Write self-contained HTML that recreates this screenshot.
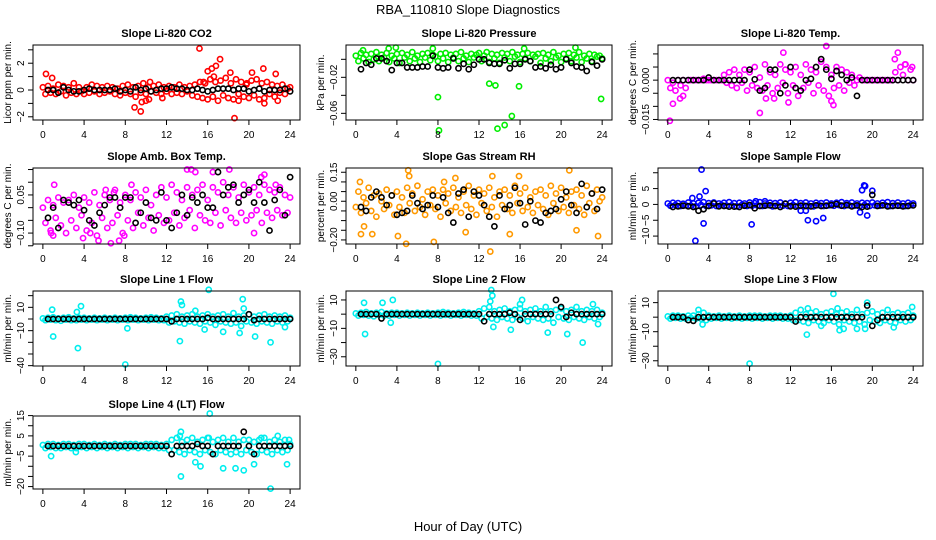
<!DOCTYPE html>
<html><head><meta charset="utf-8">
<style>
body{margin:0;background:#fff;}
svg{display:block;font-family:"Liberation Sans",Arial,sans-serif;}
</style></head>
<body>
<svg id="chart" width="936" height="540" viewBox="0 0 936 540">
<text x="468" y="14" font-size="13" text-anchor="middle">RBA_110810  Slope Diagnostics</text>
<text x="468" y="531" font-size="13" text-anchor="middle">Hour of Day (UTC)</text>
</svg>
<script>
// x tick labels shared by all panels
const xTicks = [0,4,8,12,16,20,24];

// ---- Panel 1: CO2 ----
const co2Col = [0.2,-0.3,0.3,-0.2,0.1,-0.3,0.4,-0.1,0.3,-0.4,0.2,-0.2,0.5,-0.3,0.2,-0.1,
-0.3,0.2,-0.2,0.4,-0.1,0.3,-0.3,0.2,-0.2,0.3,-0.1,0.2,-0.3,0.1,-0.4,0.3,
-0.2,0.4,-0.3,0.2,-0.5,0.3,-0.2,0.5,-0.3,0.2,-0.1,0.3,-0.2,0.4,-0.3,0.2,
-0.1,0.3,-0.3,0.2,-0.2,0.4,-0.3,0.2,-0.1,0.3,-0.4,0.4,-0.5,0.6,-0.6,0.5,
-0.7,0.8,-0.5,0.6,-0.8,0.7,-0.4,0.9,-0.6,0.5,-0.7,0.8,-0.3,0.6,-0.5,0.4,
-0.6,0.7,-0.4,0.8,-0.7,0.5,-0.6,0.6,-0.3,0.4,-0.5,0.3,-0.2,0.4,-0.3,0.1,0.2];
const co2OutX = [0.3,0.9,8.9,9.5,9.6,10,10.3,10.4,15.2,15.6,16,16.4,16.8,17.2,16.6,18.2,18.6,19.8,20.3,21.4,21.5,22.6,22.8,11.6,19];
const co2OutY = [1.2,0.9,-1.3,-1.6,-0.9,-0.8,-0.7,0.6,3.1,0.6,1.4,1.6,1.8,2.3,1.0,1.3,-2.1,0.5,1.3,1.6,-1.0,1.2,-0.8,-0.6,-0.8];
const co2Blk = [0,0,-0.2,0.2,0,-0.1,-0.1,0,0.1,0,0,0,0,0.1,-0.1,0,-0.1,0.2,0,0.1,-0.1,0,0.1,0.1,0.2,0.1,0.1,0,0,0.1,0,-0.1,0,0.1,0.1,0.1,0,0.1,0.1,-0.1,0,0.1,-0.1,0,0,0,0.1,-0.1];

// ---- Panel 2: Pressure ----
const prCol = [.004,-.002,.007,.001,.005,-.003,.006,0,.008,-.002,.005,.002,.007,-.003,.004,.001,
.006,-.004,.007,.002,.005,-.002,.008,.001,.004,-.003,.006,.002,.007,-.001,.005,.003,
-.002,.006,.001,.007,-.003,.005,.002,.006,-.002,.008,.001,.004,-.003,.006,.002,.005,
.007,-.002,.004,.008,-.003,.006,.001,.005,-.004,.007,.002,.006,-.002,.008,.003,.005,
-.003,.006,.001,.007,-.002,.005,.003,.006,-.004,.007,.001,.005,-.002,.008,.002,.004,
-.003,.006,.001,.007,-.002,.005,.002,.008,-.003,.004,.001,.006,-.002,.005,.003,.004,.001];
const prOutX = [8,8.1,13,13.6,13.8,14.5,15.2,15.9,23.9,21.4,3.9,0.7,7.5,3.2,16.4];
const prOutY = [-0.042,-0.079,-0.027,-0.029,-0.077,-0.073,-0.063,-0.030,-0.044,0.013,0.013,0.010,0.012,0.012,0.012];
const prBlk = [-0.011,-0.004,-0.006,0.001,0.001,-0.002,-0.012,-0.004,-0.004,-0.009,-0.009,-0.009,-0.008,-0.008,0.004,-0.009,-0.010,-0.009,0.001,-0.010,-0.005,-0.011,-0.006,0.000,0.000,-0.004,-0.005,-0.005,-0.001,-0.010,-0.005,-0.005,0.000,-0.002,-0.009,-0.008,-0.010,-0.006,-0.011,-0.009,0.000,-0.004,-0.008,-0.009,-0.013,-0.003,-0.007,0.000];

// ---- Panel 3: Li-820 Temp ----
const tpCol = [0,-.003,-.001,-.004,0,-.002,0,-.003,0,0,0,0,0,0,.0005,0,
0,0,0,0,0,0,.002,-.001,.003,-.002,.004,-.003,.002,-.001,.004,-.004,
.003,-.002,.005,-.003,.001,-.004,.006,-.002,.003,-.005,.002,-.003,.006,-.001,.004,-.005,
.003,-.002,.005,-.006,.002,-.003,.006,-.001,.004,-.005,.003,-.002,.007,-.004,.005,-.006,
.002,-.003,.005,-.002,.004,-.004,.003,-.001,.002,-.002,0,.001,0,0,0,0,
0,0,0,0,0,0,0,0,0,.003,0,.005,.002,.006,0,.004,0];
const tpOutX = [0.2,0.5,9,15.5,11.3,22.5,22.2,23.2,23.9,16,16.2,11.8,1.2,1.5,9.6,10.4];
const tpOutY = [-0.0155,-0.009,-0.0125,0.013,0.0105,0.0105,0.008,0.006,0.005,-0.008,-0.0095,-0.0085,-0.007,-0.006,-0.007,-0.007];
const tpBlk = [0,0,0,0,0,0,0,0.001,0,0,0,0,0,0,0,0.004,0.0003,-0.004,-0.003,0.004,0.004,-0.005,-0.002,0.005,-0.003,-0.004,0,0.0005,0.005,0.008,0.004,0.0005,0.0035,0.002,0,0.001,-0.006,0,0,0,0,0,0,0,0,0,0,0];

// ---- Panel 4: Amb. Box Temp ----
const abCol = [0.00,-0.06,0.03,-0.09,0.01,-0.04,0.04,-0.07,0.02,-0.10,0.03,-0.05,0.05,-0.08,0.00,-0.03,
0.04,-0.09,0.02,-0.06,0.06,-0.11,0.01,-0.04,0.05,-0.08,0.03,-0.06,0.07,-0.03,0.02,-0.10,
0.05,-0.05,0.03,-0.08,0.06,-0.02,0.04,-0.07,0.07,-0.04,0.01,-0.09,0.05,-0.03,0.08,-0.06,
0.04,-0.05,0.09,-0.02,0.06,-0.07,0.03,-0.04,0.08,-0.01,0.05,-0.08,0.07,-0.03,0.09,-0.05,
0.03,-0.06,0.08,-0.02,0.06,-0.07,0.10,-0.01,0.05,-0.04,0.08,-0.06,0.04,-0.02,0.09,-0.05,
0.06,-0.03,0.08,-0.01,0.05,-0.06,0.09,-0.02,0.07,-0.04,0.06,-0.01,0.08,-0.03,0.05,-0.02,0.04];
const abOutX = [0.8,1.0,1.1,3.9,4.6,5.4,6.1,6.6,7.4,7.9,8.6,14.0,14.4,14.8,16.5,18.1,20.5,21.2,21.5,6.9,22.6];
const abOutY = [-0.10,-0.11,0.09,-0.12,-0.10,-0.13,0.07,-0.14,-0.13,-0.11,0.09,0.15,0.15,0.14,0.14,0.15,-0.10,0.12,0.13,0.06,0.09];
const abBlk = [-0.04,0.00,-0.08,0.03,0.02,0.01,0.03,-0.01,-0.05,-0.07,-0.02,0.01,0.04,0.04,0.00,0.04,0.04,-0.06,-0.02,0.02,-0.04,-0.05,0.06,-0.05,-0.08,-0.02,0.05,-0.03,0.04,0.02,0.05,0.00,0.00,0.14,0.05,0.08,0.09,0.02,0.05,0.07,0.02,0.10,0.02,-0.09,0.03,0.07,-0.03,0.12];

// ---- Panel 5: Gas Stream RH ----
const rhCol = [-0.03,0.05,-0.06,0.02,-0.01,0.07,-0.05,0.03,-0.08,0.04,0.00,-0.04,0.06,-0.02,0.03,-0.07,
0.05,-0.03,0.02,-0.06,0.07,-0.01,0.04,-0.05,0.08,-0.03,0.01,-0.07,0.05,-0.02,0.06,-0.04,
0.03,-0.08,0.06,-0.01,0.04,-0.05,0.07,-0.03,0.02,-0.06,0.05,-0.02,0.08,-0.04,0.03,-0.07,
0.06,-0.01,0.04,-0.05,0.07,-0.03,0.02,-0.08,0.05,-0.02,0.06,-0.04,0.03,-0.06,0.08,-0.01,
0.04,-0.05,0.07,-0.03,0.02,-0.06,0.05,-0.02,0.06,-0.04,0.03,-0.07,0.08,-0.01,0.04,-0.05,
0.07,-0.03,0.02,-0.06,0.05,-0.02,0.06,-0.04,0.03,-0.07,0.08,-0.01,0.04,-0.05,0.06,0.00,0.02];
const rhOutX = [0.4,0.5,0.8,4.1,5.1,5.2,4.9,7.6,9.7,13.1,13.3,15.0,15.9,20.8,21.5,23.6,1.6,8.6,10.7];
const rhOutY = [0.10,-0.17,-0.13,-0.18,0.16,0.13,-0.22,-0.21,0.12,-0.26,0.13,-0.17,0.13,0.16,-0.15,-0.18,-0.17,0.10,-0.16];
const rhBlk = [-0.03,-0.05,0.02,0.05,0.02,-0.02,0.03,-0.07,-0.06,-0.05,0.03,-0.01,-0.04,-0.02,0.03,-0.03,0.02,-0.06,-0.11,0.04,0.06,-0.08,0.05,0.03,-0.02,-0.08,-0.13,0.03,-0.04,-0.02,0.07,-0.01,-0.12,0.00,-0.1,-0.11,-0.06,-0.05,-0.04,0.01,0.05,-0.02,-0.06,0.09,-0.03,0.04,-0.04,0.06];

// ---- Panel 6: Sample Flow ----
const sfCol = [0.3,-0.4,0.5,-0.2,0.4,-0.5,0.2,-0.3,0.6,-0.4,0.3,-0.6,0.5,-0.2,0.7,-0.5,
0.4,-0.3,0.6,-0.5,0.3,-0.2,0.5,-0.4,0.7,-0.3,0.4,-0.6,0.5,-0.2,0.3,-0.5,
0.6,-0.4,0.4,-0.3,0.7,-0.5,0.3,-0.2,0.5,-0.6,0.4,-0.3,0.6,-0.4,0.3,-0.5,
0.5,-0.2,0.7,-0.5,0.4,-0.3,0.6,-0.4,0.3,-0.6,0.5,-0.2,0.4,-0.5,0.6,-0.3,
0.3,-0.4,0.5,-0.2,0.7,-0.5,0.4,-0.3,0.6,-0.4,0.3,-0.6,0.5,-0.2,0.4,-0.5,
0.6,-0.3,0.3,-0.4,0.5,-0.2,0.7,-0.5,0.4,-0.3,0.6,-0.4,0.3,-0.5,0.5,-0.2,0.3];
const sfOutX = [2.7,3.3,3.5,3.7,3.1,2.4,8.2,13.7,14.5,15.2,13.5,19,19.2,19.3,19.5,20,18.8,13,8.6,9.5];
const sfOutY = [-11.5,11,-6,4.2,2.5,2,-6.3,-5,-5.3,-4.3,-2,4.5,6,5.8,-3.5,4.3,-2.5,-2,1,1];
const sfBlk = [-0.8,-0.6,-0.4,-0.6,-0.8,-2,-1.5,-0.5,0.3,-0.6,-0.5,-0.7,-0.7,-0.8,-0.4,-0.2,-1.2,-0.5,-0.4,-0.3,-0.5,-0.8,0.2,-0.6,-0.7,-0.4,-0.5,-0.6,-0.3,-0.5,-0.4,-0.2,0.1,-0.4,-0.2,-0.6,-0.3,-0.8,-0.7,3,-0.5,-0.3,-0.6,-0.5,-0.4,-0.6,-0.5,-0.3];

// ---- Panel 7: Line 1 Flow ----
const l1Col = [0.5,-1,1,-0.5,1.5,-1,0.5,-1.5,1,-0.5,1.5,-1,0.5,-1,1,-0.5,
1,-1,0.5,-0.5,1,-1,0.5,-0.5,1,-1,0.5,-0.5,1,-1,0.5,-0.5,
1,-1,1.5,-0.5,1,-1,0.5,-0.5,1,-1,1.5,-0.5,1,-1,0.5,-1,
2,-3,3,-2,4,-3,2,-4,3,-2,4,-3,2,-4,3,-2,
4,-3,2,-5,3,-2,4,-3,2,-4,5,-3,2,-6,3,-2,
4,-3,2,-4,3,-2,4,-3,2,-4,3,-2,2,-3,3,-2,1];
const l1OutX = [1,0.9,3.4,3.7,3.3,8,8.2,13.3,13.4,13.5,14.8,16.1,19.4,19.5,20.6,22.1,17.5,19.1,15.7,23.5];
const l1OutY = [-15,8,-25,11,6,-39,-8,-19,15,12,7,25,17,9,-15,-20,-11,-12,-9,-7];
const l1Blk = [0,0,0,0,0,0,0,0,0,0,0,0,0,0,0,0,0,0,0,0,0,0,0,0,-2,0,0,0,0,0,0,1,0,0,0,0,0,0,0,4,-1,0,0,0,0,0,0,0];

// ---- Panel 8: Line 2 Flow ----
const l2Col = [0.5,-1,1,-0.5,1.5,-1,0.5,-1.5,1,-0.5,1.5,-1,0.5,-1,1,-0.5,
1,-1,0.5,-0.5,1,-1,0.5,-0.5,1,-1,0.5,-0.5,1,-1,0.5,-0.5,
1,-1,1.5,-0.5,1,-1,0.5,-0.5,1,-1,1.5,-0.5,1,-1,0.5,-1,
2,-3,4,-2,5,-3,2,-4,3,-2,4,-3,2,-4,3,-2,
4,-3,2,-5,3,-2,4,-3,2,-4,5,-3,2,-6,3,-2,
4,-3,2,-4,3,-2,5,-3,2,-4,3,-2,2,-3,3,-2,1];
const l2OutX = [0.8,0.9,2.6,3.6,3.4,8,13.3,13.1,13.4,15.1,16,16.2,18.7,20.6,22.1,23.6,23.1,13.2];
const l2OutY = [8,-14,8,10,-6,-35,13,9,-9,-11,7,10,-13,-14,-20,-7,7,17];
const l2Blk = [0,0,0,0,-3,0,0,0,0,0,0,0,0,0,0,0,0,0,0,0,0,0,0,0,-5,0,0,0,0,1,0,-4,0,0,0,0,0,0,10,5,-2,1,0,0,0,0,0,0];

// ---- Panel 9: Line 3 Flow ----
const l3Col = [0.5,-1,1,-0.5,1,-1,0.5,-1,1,-0.5,1,-1,2,-1,3,-2,
1,-1,0.5,-0.5,1,-1,0.5,-0.5,1,-1,0.5,-0.5,1,-1,0.5,-0.5,
1,-1,1,-0.5,1,-1,0.5,-0.5,1,-1,1,-0.5,1,-1,0.5,-1,
1,-2,3,-2,5,-3,2,-4,3,-2,4,-3,2,-4,3,-2,
4,-3,2,-5,3,-2,4,-3,2,-4,5,-3,2,-5,3,-2,
4,-3,2,-4,3,-2,5,-3,2,-4,3,-2,2,-3,3,-2,1];
const l3OutX = [8,13.6,16.2,15,16.8,17.2,18.5,19.5,23.9,22.1,3,3.4,19.3,13.7,16.6];
const l3OutY = [-32,-12,16,-6,-9,-8,-8,10,7,-7,5,-5,-8,6,6];
const l3Blk = [0,0,0,-2,-2.5,0,0,0,0,0,0,0,0,0,0,0,0,0,0,0,0,0,0,0,-3,0,0,0,0,0,0,0,0,0,0,0,0,0,8,-6,-2,0,0,0,0,0,0,0];

// ---- Panel 10: Line 4 (LT) Flow ----
const l4Col = [0.5,-1,1,-0.5,1,-1,0.5,-1,1,-0.5,1,-1,0.5,-1,1,-0.5,
1,-1,0.5,-0.5,1,-1,0.5,-0.5,1,-1,0.5,-0.5,1,-1,0.5,-0.5,
1,-1,1,-0.5,1,-1,0.5,-0.5,1,-1,1,-0.5,1,-1,0.5,-1,
1,-2,3,-2,4,-3,2,-4,3,-2,4,-3,2,-4,3,-2,
4,-3,2,-4,3,-2,4,-3,2,-4,4,-3,2,-4,3,-2,
3,-3,2,-4,3,-2,4,-3,2,-4,3,-2,2,-3,3,-2,1];
const l4OutX = [0.8,13.4,13.4,13.3,16.2,16.1,15.3,14.8,17.5,18.7,19.5,22.1,20.5,23.7,21.2,22.8,23.9,3.2];
const l4OutY = [-5,-15,7,5,16,4,-10,-8,-11,-11,-12,-21,-9,-9,4,5,3,-3];
const l4Blk = [0,0,0,0,0,0,0,0,0,0,0,0,0,0,0,0,0,0,0,0,0,0,0,0,-4,0,0,0,0,1,0,0,-4,0,0,0,0,0,7,0,-4,0,0,0,0,0,0,0];

const panels = [
 {name:'co2',title:'Slope Li-820 CO2',ylab:'Licor ppm per min.',col:'#ff0000',L:33,R:300,T:45,B:120,ylim:[-2.24,3.36],ticks:[-2,-1,0,1,2,3],labels:{'-2':'\u22122','0':'0','2':'2'},c:co2Col,ox:co2OutX,oy:co2OutY,b:co2Blk},
 {name:'pressure',title:'Slope Li-820 Pressure',ylab:'kPa per min.',col:'#00ee00',L:346,R:612,T:45,B:120,ylim:[-0.0674,0.0159],ticks:[-0.06,-0.04,-0.02,0],labels:{'-0.06':'\u22120.06','-0.02':'\u22120.02'},c:prCol,ox:prOutX,oy:prOutY,b:prBlk},
 {name:'li820-temp',title:'Slope Li-820 Temp.',ylab:'degrees C per min.',col:'#ff00ff',L:658,R:923,T:45,B:120,ylim:[-0.0152,0.0134],ticks:[-0.015,-0.01,-0.005,0,0.005,0.01],labels:{'-0.015':'\u22120.015','0':'0.000'},c:tpCol,ox:tpOutX,oy:tpOutY,b:tpBlk},
 {name:'amb-box-temp',title:'Slope Amb. Box Temp.',ylab:'degrees C per min.',col:'#ff00ff',L:33,R:300,T:168,B:244,ylim:[-0.143,0.156],ticks:[-0.15,-0.1,-0.05,0,0.05,0.1,0.15],labels:{'-0.1':'\u22120.10','0.05':'0.05'},c:abCol,ox:abOutX,oy:abOutY,b:abBlk},
 {name:'gas-stream-rh',title:'Slope Gas Stream RH',ylab:'percent per min.',col:'#ff9900',L:346,R:612,T:168,B:244,ylim:[-0.221,0.172],ticks:[-0.2,-0.15,-0.1,-0.05,0,0.05,0.1,0.15],labels:{'-0.2':'\u22120.20','0':'0.00','0.15':'0.15'},c:rhCol,ox:rhOutX,oy:rhOutY,b:rhBlk},
 {name:'sample-flow',title:'Slope Sample Flow',ylab:'ml/min per min.',col:'#0000ff',L:658,R:923,T:168,B:244,ylim:[-12.5,11.5],ticks:[-10,-5,0,5,10],labels:{'-10':'\u221210','-5':'\u22125','0':'0','5':'5'},c:sfCol,ox:sfOutX,oy:sfOutY,b:sfBlk},
 {name:'line1-flow',title:'Slope Line 1 Flow',ylab:'ml/min per min.',col:'#00eeee',L:33,R:300,T:291,B:366,ylim:[-40.3,24],ticks:[-40,-30,-20,-10,0,10,20],labels:{'-40':'\u221240','-10':'\u221210','10':'10'},c:l1Col,ox:l1OutX,oy:l1OutY,b:l1Blk},
 {name:'line2-flow',title:'Slope Line 2 Flow',ylab:'ml/min per min.',col:'#00eeee',L:346,R:612,T:291,B:366,ylim:[-36.5,16.3],ticks:[-30,-20,-10,0,10],labels:{'-30':'\u221230','-10':'\u221210','10':'10'},c:l2Col,ox:l2OutX,oy:l2OutY,b:l2Blk},
 {name:'line3-flow',title:'Slope Line 3 Flow',ylab:'ml/min per min.',col:'#00eeee',L:658,R:923,T:291,B:366,ylim:[-33.6,18],ticks:[-30,-20,-10,0,10],labels:{'-30':'\u221230','-10':'\u221210','10':'10'},c:l3Col,ox:l3OutX,oy:l3OutY,b:l3Blk},
 {name:'line4-flow',title:'Slope Line 4 (LT) Flow',ylab:'ml/min per min.',col:'#00eeee',L:33,R:300,T:416,B:489,ylim:[-21.2,14.8],ticks:[-20,-15,-10,-5,0,5,10,15],labels:{'-20':'\u221220','-5':'\u22125','5':'5','15':'15'},c:l4Col,ox:l4OutX,oy:l4OutY,b:l4Blk}
];

const NS='http://www.w3.org/2000/svg';
const svg=document.getElementById('chart');
function mk(tag,attrs,parent){const e=document.createElementNS(NS,tag);for(const k in attrs)e.setAttribute(k,attrs[k]);parent.appendChild(e);return e;}

panels.forEach(p=>{
  const g=mk('g',{},svg);
  
  
  const x0=p.L+(p.R-p.L)*0.037, x1=p.R-(p.R-p.L)*0.037;
  const xs=v=>x0+(x1-x0)*v/24;
  const ys=v=>p.B-(p.B-p.T)*(v-p.ylim[0])/(p.ylim[1]-p.ylim[0]);
  // title
  const t=mk('text',{x:(p.L+p.R)/2,y:p.T-8,'font-size':11,'font-weight':'bold','text-anchor':'middle'},g);
  t.textContent=p.title;
  
  
  // points
  const pts=mk('g',{fill:'none','stroke-width':1.6},g);
  
  
  p.c.forEach((v,i)=>{
    const c=mk('circle',{cx:xs(i*0.25),cy:ys(v),r:2.6,stroke:p.col},pts);
    
    
  });
  p.ox.forEach((xv,i)=>{
    const c=mk('circle',{cx:xs(xv),cy:ys(p.oy[i]),r:2.6,stroke:p.col},pts);
    
    
  });
  p.b.forEach((v,i)=>{
    const c=mk('circle',{cx:xs(0.5*(i+1)),cy:ys(v),r:2.6,stroke:'#000'},pts);
    
    
  });
  // box
  const bx=mk('rect',{x:p.L,y:p.T,width:p.R-p.L,height:p.B-p.T,fill:'none',stroke:'#000','stroke-width':1},g);
  
  
  // x axis
  const xa=mk('g',{},g);
  
  
  mk('line',{x1:xs(0),x2:xs(24),y1:p.B,y2:p.B,stroke:'#000'},xa);
  xTicks.forEach(v=>{
    mk('line',{x1:xs(v),x2:xs(v),y1:p.B,y2:p.B+5,stroke:'#000'},xa);
    const tl=mk('text',{x:xs(v),y:p.B+18,'font-size':10,'text-anchor':'middle'},xa);
    tl.textContent=v;
    
    
  });
  // y axis
  const ya=mk('g',{},g);
  
  
  const tk=p.ticks;
  mk('line',{x1:p.L,x2:p.L,y1:ys(tk[0]),y2:ys(tk[tk.length-1]),stroke:'#000'},ya);
  tk.forEach(v=>{
    mk('line',{x1:p.L-5,x2:p.L,y1:ys(v),y2:ys(v),stroke:'#000'},ya);
    const key=String(v);
    if(p.labels[key]!==undefined){
      const tx=p.L-9, ty=ys(v);
      const tl=mk('text',{x:tx,y:ty,'font-size':10,'text-anchor':'middle',transform:`rotate(-90 ${tx} ${ty})`},ya);
      tl.textContent=p.labels[key];
      
      
    }
  });
  const lx=p.L-22, ly=(p.T+p.B)/2;
  const yl=mk('text',{x:lx,y:ly,'font-size':10,'text-anchor':'middle',transform:`rotate(-90 ${lx} ${ly})`},g);
  yl.textContent=p.ylab;
  
  
});
</script>
</body></html>
